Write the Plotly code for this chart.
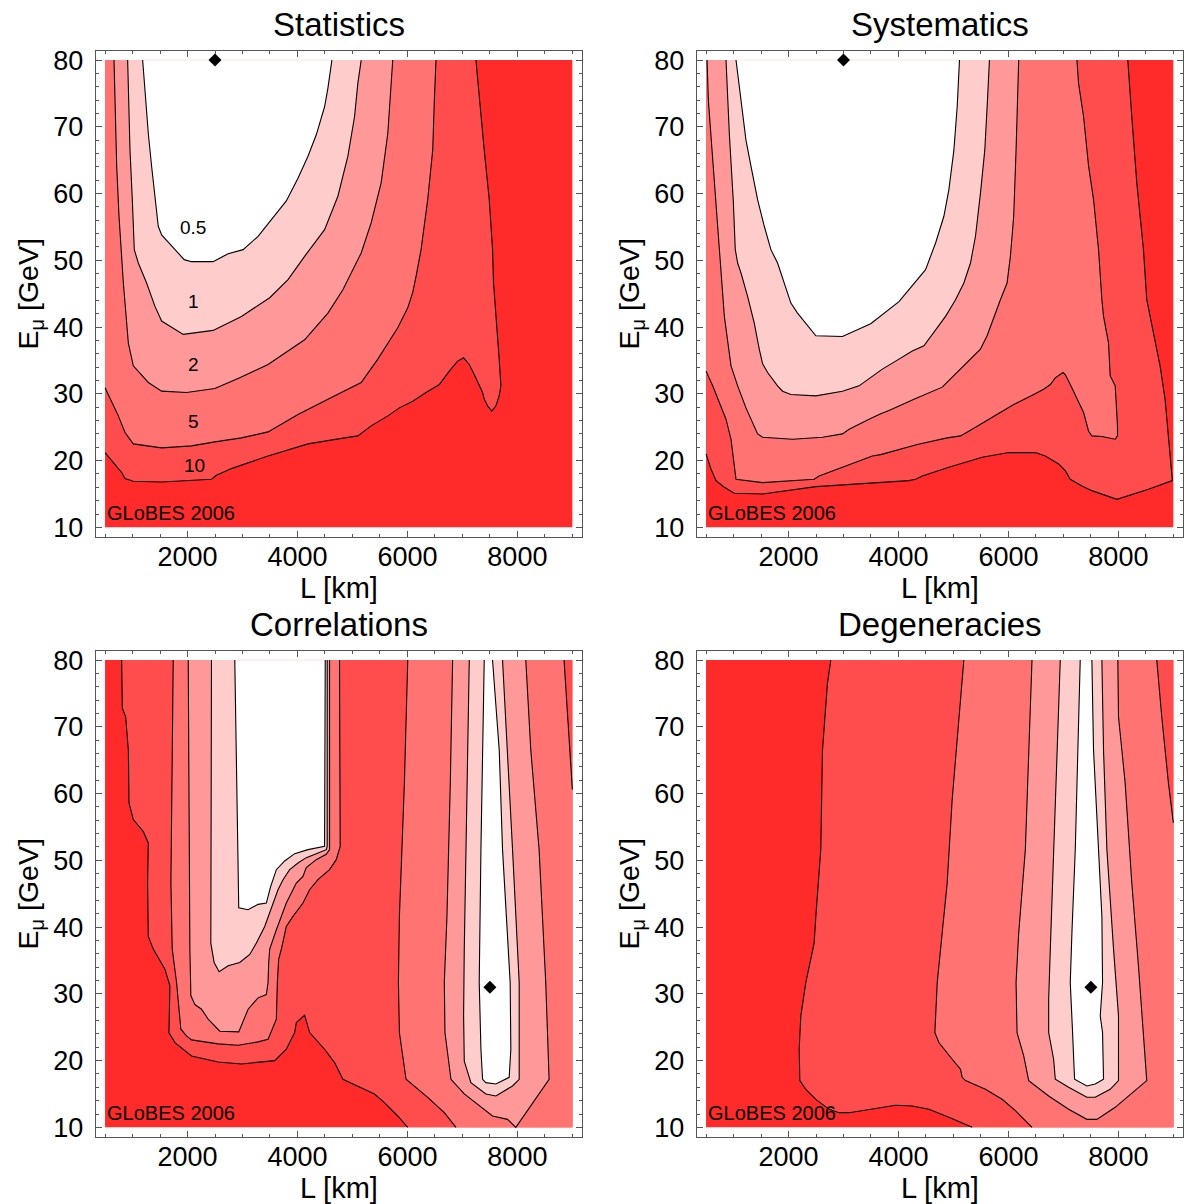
import plotly.graph_objects as go

# Extent of the (L, E_mu) scan grid
L_MIN, L_MAX = 500, 9000
E_MIN, E_MAX = 10, 80

# Shading between the chi^2 levels 0.5, 1, 2, 5, 10
COLOR_ABOVE_10 = "#FF2A2A"
COLOR_5_10 = "#FF4D4D"
COLOR_2_5 = "#FF7373"
COLOR_1_2 = "#FF9999"
COLOR_05_1 = "#FFCCCC"
COLOR_BELOW_05 = "#FFFFFF"
EDGE_TINT = "#FFE2E2"

CONTOUR_LEVELS = ["0.5", "1", "2", "5", "10"]

# ---------------- Statistics ----------------
STAT_C05_L = [1184, 1226, 1287, 1347, 1408, 1468, 1529, 1710, 1940, 2073, 2466, 2739, 3011, 3283, 3495, 3646, 3797, 4009, 4191, 4342, 4493, 4554, 4626]
STAT_C05_E = [80, 75.0, 69.0, 64.1, 59.6, 55.1, 53.8, 52.1, 50.1, 49.8, 49.8, 51.0, 51.6, 53.6, 55.8, 57.3, 58.9, 62.3, 65.6, 68.8, 73.0, 75.8, 80]
STAT_C1_L = [911, 924, 954, 996, 1032, 1105, 1256, 1408, 1529, 1922, 2466, 2981, 3495, 3828, 4130, 4493, 4735, 4917, 5038, 5098, 5159]
STAT_C1_E = [80, 74.0, 66.5, 59.1, 51.6, 49.6, 46.6, 43.1, 40.9, 38.9, 39.5, 41.6, 44.4, 47.1, 50.6, 54.6, 59.6, 65.6, 71.5, 76.5, 80]
STAT_C2_L = [663, 682, 712, 754, 833, 924, 1014, 1287, 1529, 1982, 2497, 2950, 3465, 4130, 4554, 4826, 5159, 5340, 5522, 5643, 5703, 5733]
STAT_C2_E = [80, 71.5, 64.1, 56.6, 46.6, 37.6, 34.2, 31.7, 30.4, 30.2, 30.8, 32.4, 34.4, 38.1, 42.1, 45.6, 51.1, 55.6, 61.6, 69.0, 75.5, 80]
STAT_C5_L = [500, 621, 742, 863, 1014, 1529, 2073, 2497, 2981, 3465, 3586, 4009, 4554, 5008, 5159, 5461, 5824, 6006, 6097, 6157, 6248, 6369, 6460, 6490, 6520]
STAT_C5_E = [30.9, 28.7, 26.7, 24.2, 22.5, 21.9, 22.2, 22.8, 23.4, 24.3, 24.9, 26.9, 29.2, 31.1, 31.7, 35.2, 39.9, 42.9, 45.2, 47.6, 51.6, 59.1, 66.5, 74.0, 80]
STAT_C10_L = [500, 682, 803, 863, 1014, 1529, 2134, 2436, 2527, 2799, 3465, 4191, 4856, 5098, 5340, 5643, 5854, 6096, 6338, 6580, 6762, 6913, 7022, 7125, 7216, 7306, 7367, 7397, 7458, 7536, 7609, 7669, 7700, 7669, 7609, 7566, 7548, 7488, 7397, 7306, 7246]
STAT_C10_E = [21.2, 19.5, 18.2, 17.3, 16.9, 16.8, 17.0, 17.2, 17.8, 18.8, 20.7, 22.5, 23.4, 23.7, 25.2, 26.7, 27.9, 28.9, 30.2, 31.4, 33.4, 34.9, 35.4, 34.4, 32.9, 31.4, 30.2, 29.2, 28.2, 27.4, 28.2, 29.7, 31.2, 35.2, 41.6, 46.6, 51.6, 59.1, 66.5, 74.0, 80]
STAT_BEST = (2500, 80)
STAT_LABEL_L = [2105, 2105, 2105, 2105, 2128]
STAT_LABEL_E = [54.9, 43.8, 34.4, 25.9, 19.3]

# ---------------- Systematics ----------------
SYST_C05_L = [1045, 1135, 1226, 1317, 1438, 1559, 1680, 1801, 1922, 2043, 2164, 2315, 2497, 2981, 3495, 4009, 4493, 4675, 4826, 4917, 5008, 5068, 5110]
SYST_C05_E = [80, 74.0, 68.0, 64.1, 59.1, 55.1, 51.6, 49.6, 46.6, 43.6, 42.1, 40.6, 38.7, 38.6, 40.5, 43.8, 48.6, 52.6, 56.6, 60.6, 66.5, 73.0, 80]
SYST_C1_L = [863, 924, 996, 1032, 1075, 1136, 1256, 1377, 1468, 1529, 1620, 1801, 1892, 2043, 2497, 2981, 3283, 3495, 3707, 3949, 4251, 4463, 4645, 4856, 5038, 5189, 5310, 5401, 5492, 5570, 5619, 5655]
SYST_C1_E = [80, 68.9, 58.9, 51.6, 49.6, 48.1, 44.6, 40.6, 36.7, 34.5, 33.2, 31.2, 30.4, 29.9, 29.7, 30.4, 31.2, 32.4, 33.7, 34.9, 36.4, 37.2, 39.2, 41.6, 44.1, 46.6, 49.6, 53.6, 60.1, 66.5, 74.0, 80]
SYST_C2_L = [518, 542, 609, 651, 700, 742, 833, 954, 1075, 1226, 1438, 1529, 2073, 2618, 2981, 3102, 3283, 3465, 3677, 3828, 4282, 4796, 5491, 5612, 5854, 5975, 6036, 6096, 6139, 6175, 6187]
SYST_C2_E = [80, 74.0, 66.5, 61.6, 56.6, 51.6, 41.6, 34.2, 31.2, 27.9, 24.0, 23.5, 23.2, 23.5, 24.0, 24.7, 25.5, 26.2, 27.0, 27.5, 29.2, 31.0, 36.7, 38.7, 44.1, 46.6, 50.6, 56.6, 66.5, 76.5, 80]
SYST_C5_L = [500, 621, 742, 863, 954, 1014, 1045, 1529, 2466, 2557, 3041, 3525, 3676, 4342, 4886, 5128, 5340, 6096, 6459, 6641, 6762, 6853, 6992, 7034, 7125, 7306, 7367, 7458, 7518, 7700, 7942, 7984, 7984, 7942, 7851, 7821, 7730, 7700, 7639, 7548, 7458, 7367, 7276, 7246]
SYST_C5_E = [33.4, 31.2, 28.7, 26.2, 23.2, 19.7, 17.2, 16.7, 17.2, 17.7, 19.2, 20.7, 20.9, 22.4, 23.4, 23.7, 24.7, 28.4, 29.9, 30.7, 31.4, 32.4, 33.2, 32.9, 31.4, 28.4, 27.2, 24.4, 23.7, 23.6, 23.2, 23.7, 25.2, 31.2, 32.7, 37.6, 41.6, 44.1, 51.6, 59.1, 64.1, 71.5, 76.5, 80]
SYST_C10_L = [500, 591, 682, 833, 1014, 1529, 2497, 3344, 4191, 4312, 4433, 4917, 5522, 6006, 6490, 6671, 6913, 7034, 7125, 7337, 7518, 7972, 8547, 8982, 8958, 8910, 8849, 8758, 8637, 8516, 8456, 8335, 8244, 8171]
SYST_C10_E = [21.0, 18.7, 17.0, 16.0, 15.1, 15.0, 16.1, 16.5, 17.0, 17.2, 17.7, 19.0, 20.5, 21.2, 21.2, 20.7, 19.5, 18.5, 17.2, 16.2, 15.5, 14.2, 15.7, 17.0, 19.2, 24.2, 29.2, 34.2, 39.1, 44.1, 51.6, 61.6, 71.5, 80]
SYST_BEST = (3000, 80)

# ---------------- Correlations ----------------
CORR_C10_L = [802, 815, 875, 924, 936, 1014, 1196, 1287, 1274, 1287, 1377, 1589, 1680, 1662, 1771, 2073, 2557, 2981, 3586, 3797, 3949, 3979, 4130, 4221, 4493, 4675, 4826, 5098, 5401, 5582, 5824, 6006]
CORR_C10_E = [80, 72.8, 71.5, 66.5, 58.6, 56.1, 54.3, 52.6, 46.6, 38.6, 36.7, 33.7, 31.2, 24.2, 22.7, 20.7, 19.8, 19.5, 20.0, 21.7, 24.2, 25.7, 26.8, 24.2, 21.7, 19.7, 17.2, 16.2, 15.0, 13.7, 11.7, 10]
CORR_C5L_L = [1740, 1722, 1698, 1722, 1801, 1879, 1982, 2073, 2557, 2920, 3283, 3465, 3616, 3634, 3658, 3707, 3797, 3918, 4100, 4221, 4372, 4584, 4705, 4777, 4765]
CORR_C5L_E = [80, 66.5, 46.6, 36.7, 31.7, 24.7, 23.7, 23.1, 22.5, 22.3, 22.8, 23.2, 26.2, 31.7, 35.2, 36.7, 40.1, 41.6, 43.6, 45.6, 47.1, 48.6, 50.1, 52.1, 80]
CORR_C2L_L = [2013, 2025, 2043, 2061, 2134, 2255, 2376, 2587, 2932, 3102, 3283, 3434, 3465, 3477, 3495, 3616, 3707, 3797, 3979, 4100, 4160, 4342, 4523, 4584, 4584]
CORR_C2L_E = [80, 61.6, 36.7, 29.7, 28.4, 27.7, 26.2, 24.4, 24.3, 27.7, 29.4, 29.9, 31.7, 34.7, 36.7, 39.6, 41.6, 43.6, 46.6, 47.6, 48.9, 50.1, 50.9, 51.6, 80]
CORR_C1L_L = [2436, 2436, 2424, 2484, 2575, 2739, 2950, 3132, 3253, 3404, 3495, 3555, 3646, 3737, 3858, 4009, 4160, 4342, 4523, 4541, 4541]
CORR_C1L_E = [80, 56.6, 37.6, 34.7, 33.3, 34.2, 34.7, 35.9, 37.6, 40.1, 42.1, 43.6, 45.6, 47.1, 48.6, 49.6, 50.4, 51.0, 51.6, 52.1, 80]
CORR_C05L_L = [2860, 2890, 2932, 3102, 3283, 3434, 3513, 3616, 3767, 3949, 4191, 4493, 4505]
CORR_C05L_E = [80, 61.6, 42.9, 42.6, 43.4, 43.6, 46.1, 48.6, 49.9, 51.0, 51.6, 52.1, 80]
CORR_C5R_L = [6006, 5945, 5854, 5836, 5854, 5975, 6369, 6671, 6883]
CORR_C5R_E = [80, 61.6, 41.6, 31.7, 24.2, 17.2, 14.5, 12.2, 10]
CORR_C5X_L = [8849, 8910, 9000]
CORR_C5X_E = [80, 71.5, 60.6]
CORR_C2R_L = [6822, 6780, 6719, 6671, 6683, 6792, 7034, 7337, 7548, 7821, 7972, 8577, 8516, 8395, 8244, 8153]
CORR_C2R_E = [80, 61.6, 41.6, 31.7, 24.2, 17.2, 15.0, 13.0, 11.7, 11.2, 10, 17.2, 31.7, 51.6, 66.5, 80]
CORR_C1R_L = [7125, 7095, 7064, 7034, 7022, 7034, 7155, 7427, 7609, 7912, 8033, 8033, 7912, 7821, 7730]
CORR_C1R_E = [80, 66.5, 51.6, 36.7, 26.7, 19.9, 16.7, 15.0, 14.7, 16.2, 17.2, 31.7, 51.6, 66.5, 80]
CORR_C05R_L = [7397, 7367, 7337, 7306, 7337, 7367, 7427, 7609, 7851, 7881, 7869, 7730, 7670, 7548]
CORR_C05R_E = [80, 66.5, 51.6, 31.7, 21.7, 17.2, 16.7, 16.5, 17.5, 21.7, 31.7, 51.6, 66.5, 80]
CORR_BEST = (7500, 31)

# ---------------- Degeneracies ----------------
DEG_C10_L = [2769, 2708, 2618, 2587, 2497, 2466, 2315, 2224, 2194, 2206, 2315, 2497, 2739, 2920, 3102, 3525, 3949, 4251, 4554, 4917, 5340]
DEG_C10_E = [80, 76.5, 66.5, 51.6, 41.6, 37.6, 31.7, 26.7, 21.7, 17.0, 15.7, 14.2, 12.7, 12.2, 12.2, 12.7, 13.3, 13.2, 12.7, 11.5, 10]
DEG_C5_L = [5189, 5098, 4977, 4886, 4796, 4705, 4662, 4735, 4977, 5128, 5159, 5219, 5582, 5885, 6127, 6429]
DEG_C5_E = [80, 71.5, 59.1, 46.6, 39.1, 31.7, 24.2, 22.7, 20.2, 18.7, 17.5, 17.0, 15.7, 14.2, 12.5, 10]
DEG_C5X_L = [8698, 8789, 8910, 9000]
DEG_C5X_E = [80, 71.5, 61.6, 55.6]
DEG_C2_L = [6429, 6369, 6308, 6187, 6139, 6157, 6278, 6369, 6732, 7095, 7427, 7609, 7942, 8516, 8456, 8365, 8244, 8123, 8002, 7990]
DEG_C2_E = [80, 66.5, 51.6, 39.1, 31.7, 24.2, 20.7, 17.0, 14.7, 12.7, 11.2, 11.2, 13.0, 17.0, 24.2, 34.2, 46.6, 61.6, 71.5, 80]
DEG_C1_L = [6943, 6883, 6822, 6762, 6732, 6732, 6822, 6853, 7095, 7427, 7579, 7851, 8002, 8002, 7912, 7791, 7730, 7700]
DEG_C1_E = [80, 66.5, 51.6, 36.7, 29.2, 24.2, 20.2, 17.2, 16.0, 14.5, 14.5, 15.7, 17.0, 26.7, 36.7, 51.6, 66.5, 80]
DEG_C05_L = [7306, 7264, 7216, 7155, 7125, 7167, 7203, 7427, 7579, 7730, 7712, 7670, 7712, 7700, 7609, 7548, 7518]
DEG_C05_E = [80, 66.5, 51.6, 39.1, 31.7, 24.2, 17.2, 16.2, 16.5, 17.2, 24.2, 26.7, 31.7, 41.6, 56.6, 66.5, 80]
DEG_BEST = (7500, 31)

# Axis ticks
X_TICKS = [2000, 4000, 6000, 8000]
Y_TICKS = [10, 20, 30, 40, 50, 60, 70, 80]

FONT = "Liberation Sans, Arial, Helvetica, sans-serif"


def seg(L, E):
    return (list(L), list(E))


def rev(s):
    return (s[0][::-1], s[1][::-1])


def pt(l, e):
    return ([l], [e])


def join(*parts):
    Ls, Es = [], []
    for p in parts:
        Ls += p[0]
        Es += p[1]
    return Ls, Es


# Each region: (fill colour, closed outline, contour lines bounding it)
s = seg(STAT_C10_L, STAT_C10_E); s5 = seg(STAT_C5_L, STAT_C5_E)
s2 = seg(STAT_C2_L, STAT_C2_E); s1 = seg(STAT_C1_L, STAT_C1_E); s05 = seg(STAT_C05_L, STAT_C05_E)
stat_regions = [
    (COLOR_5_10, join(s, pt(L_MIN, E_MAX)), [s]),
    (COLOR_2_5, join(s5, pt(L_MIN, E_MAX)), [s5]),
    (COLOR_1_2, s2, [s2]),
    (COLOR_05_1, s1, [s1]),
    (COLOR_BELOW_05, s05, [s05]),
]
stat_white = [s05]

s = seg(SYST_C10_L, SYST_C10_E); s5 = seg(SYST_C5_L, SYST_C5_E)
s2 = seg(SYST_C2_L, SYST_C2_E); s1 = seg(SYST_C1_L, SYST_C1_E); s05 = seg(SYST_C05_L, SYST_C05_E)
syst_regions = [
    (COLOR_5_10, join(s, pt(L_MIN, E_MAX)), [s]),
    (COLOR_2_5, join(s5, pt(L_MIN, E_MAX)), [s5]),
    (COLOR_1_2, s2, [s2]),
    (COLOR_05_1, s1, [s1]),
    (COLOR_BELOW_05, s05, [s05]),
]
syst_white = [s05]

s = seg(CORR_C10_L, CORR_C10_E)
s5l = seg(CORR_C5L_L, CORR_C5L_E); s5r = seg(CORR_C5R_L, CORR_C5R_E); s5x = seg(CORR_C5X_L, CORR_C5X_E)
s2l = seg(CORR_C2L_L, CORR_C2L_E); s2r = seg(CORR_C2R_L, CORR_C2R_E)
s1l = seg(CORR_C1L_L, CORR_C1L_E); s1r = seg(CORR_C1R_L, CORR_C1R_E)
s05l = seg(CORR_C05L_L, CORR_C05L_E); s05r = seg(CORR_C05R_L, CORR_C05R_E)
corr_regions = [
    (COLOR_5_10, join(s, pt(L_MAX, E_MIN), pt(L_MAX, E_MAX)), [s]),
    (COLOR_2_5, s5l, [s5l]),
    (COLOR_2_5, join(s5r, pt(L_MAX, E_MIN), rev(s5x)), [s5r, s5x]),
    (COLOR_1_2, s2l, [s2l]),
    (COLOR_1_2, s2r, [s2r]),
    (COLOR_05_1, s1l, [s1l]),
    (COLOR_05_1, s1r, [s1r]),
    (COLOR_BELOW_05, s05l, [s05l]),
    (COLOR_BELOW_05, s05r, [s05r]),
]
corr_white = [s05l, s05r]

s = seg(DEG_C10_L, DEG_C10_E); s5 = seg(DEG_C5_L, DEG_C5_E); s5x = seg(DEG_C5X_L, DEG_C5X_E)
s2 = seg(DEG_C2_L, DEG_C2_E); s1 = seg(DEG_C1_L, DEG_C1_E); s05 = seg(DEG_C05_L, DEG_C05_E)
deg_regions = [
    (COLOR_5_10, join(s, pt(L_MAX, E_MIN), pt(L_MAX, E_MAX)), [s]),
    (COLOR_2_5, join(s5, pt(L_MAX, E_MIN), rev(s5x)), [s5, s5x]),
    (COLOR_1_2, s2, [s2]),
    (COLOR_05_1, s1, [s1]),
    (COLOR_BELOW_05, s05, [s05]),
]
deg_white = [s05]

PANELS = [
    ("Statistics", stat_regions, stat_white, STAT_BEST),
    ("Systematics", syst_regions, syst_white, SYST_BEST),
    ("Correlations", corr_regions, corr_white, CORR_BEST),
    ("Degeneracies", deg_regions, deg_white, DEG_BEST),
]

W, H = 1185, 1204
X_DOMAINS = [(95.7, 581.7), (696.7, 1182.7), (95.7, 581.7), (696.7, 1182.7)]
Y_DOMAINS = [(50.7, 536.7), (50.7, 536.7), (650.7, 1136.7), (650.7, 1136.7)]

fig = go.Figure()

for i, (title, regions, whites, best) in enumerate(PANELS, start=1):
    xa = "x" if i == 1 else f"x{i}"
    ya = "y" if i == 1 else f"y{i}"
    # outermost level: whole scan area
    fig.add_trace(go.Scatter(
        x=[L_MIN, L_MAX, L_MAX, L_MIN], y=[E_MIN, E_MIN, E_MAX, E_MAX],
        fill="toself", fillcolor=COLOR_ABOVE_10, mode="lines", line=dict(width=0),
        hoverinfo="skip", showlegend=False, xaxis=xa, yaxis=ya))
    for color, (fl, fe), _ in regions:
        fig.add_trace(go.Scatter(
            x=fl, y=fe, fill="toself", fillcolor=color, mode="lines",
            line=dict(width=0), hoverinfo="skip", showlegend=False, xaxis=xa, yaxis=ya))
    # faint upper edge of the innermost region along the top of the scan
    for wl, we in whites:
        fig.add_trace(go.Scatter(
            x=[wl[0], wl[-1]], y=[E_MAX, E_MAX], mode="lines",
            line=dict(color=EDGE_TINT, width=1), hoverinfo="skip", showlegend=False,
            xaxis=xa, yaxis=ya))
    for _, _, lines in regions:
        for ll, le in lines:
            fig.add_trace(go.Scatter(
                x=ll, y=le, mode="lines", line=dict(color="black", width=1.1),
                hoverinfo="skip", showlegend=False, xaxis=xa, yaxis=ya))
    fig.add_trace(go.Scatter(
        x=[best[0]], y=[best[1]], mode="markers",
        marker=dict(symbol="diamond", size=10, color="black"),
        hoverinfo="skip", showlegend=False, xaxis=xa, yaxis=ya, cliponaxis=False))

    x0, x1 = X_DOMAINS[i - 1]
    y0, y1 = Y_DOMAINS[i - 1]
    axis_common = dict(
        showline=True, linecolor="#555555", linewidth=1, mirror="allticks",
        ticks="inside", ticklen=6, tickwidth=1, tickcolor="#555555",
        showgrid=False, zeroline=False, automargin=False,
        tickfont=dict(family=FONT, size=27, color="black"),
    )
    fig.update_layout(**{
        ("xaxis" if i == 1 else f"xaxis{i}"): dict(
            axis_common, domain=[x0 / W, x1 / W], range=[330, 9170],
            anchor=ya, tickvals=X_TICKS, ticklabelstandoff=-4,
            minor=dict(ticks="inside", ticklen=3, tickcolor="#555555", dtick=500, tick0=0, showgrid=False)),
        ("yaxis" if i == 1 else f"yaxis{i}"): dict(
            axis_common, domain=[1 - y1 / H, 1 - y0 / H], range=[8.6, 81.4],
            anchor=xa, tickvals=Y_TICKS, ticklabelstandoff=6,
            minor=dict(ticks="inside", ticklen=3, tickcolor="#555555", dtick=2, tick0=0, showgrid=False)),
    })

    cx = (x0 + x1) / 2
    fig.add_annotation(text=title, x=cx / W, y=1 - (y0 - 26) / H, xref="paper", yref="paper",
                       showarrow=False, xanchor="center", yanchor="middle",
                       font=dict(family=FONT, size=33, color="black"))
    fig.add_annotation(text="L [km]", x=cx / W, y=1 - (y1 + 51) / H, xref="paper", yref="paper",
                       showarrow=False, xanchor="center", yanchor="middle",
                       font=dict(family=FONT, size=29, color="black"))
    fig.add_annotation(text="E<sub>μ</sub> [GeV]", x=(x0 - 66) / W, y=1 - ((y0 + y1) / 2) / H,
                       xref="paper", yref="paper", textangle=-90,
                       showarrow=False, xanchor="center", yanchor="middle",
                       font=dict(family=FONT, size=28.5, color="black"))
    fig.add_annotation(text="GLoBES 2006", x=490, y=12.2, xref=xa, yref=ya,
                       showarrow=False, xanchor="left", yanchor="middle",
                       font=dict(family=FONT, size=20, color="black"))

# level labels written on the Statistics panel
for lab, l, e in zip(CONTOUR_LEVELS, STAT_LABEL_L, STAT_LABEL_E):
    fig.add_annotation(text=lab, x=l, y=e, xref="x", yref="y", showarrow=False,
                       xanchor="center", yanchor="middle",
                       font=dict(family=FONT, size=19, color="black"))

fig.update_layout(
    width=W, height=H, margin=dict(l=0, r=0, t=0, b=0, autoexpand=False),
    paper_bgcolor="white", plot_bgcolor="white", showlegend=False,
)

fig.write_html("out.html")
